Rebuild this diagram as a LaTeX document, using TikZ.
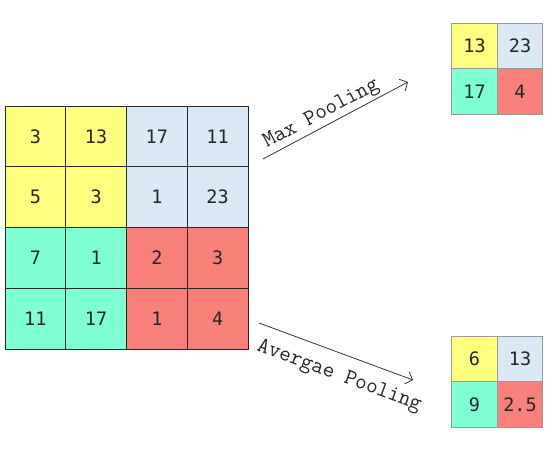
\documentclass[tikz,border=0pt]{standalone}
\usepackage{fontspec}
\newfontfamily\numfont{DejaVu Sans Mono}
\usetikzlibrary{arrows.meta}
\definecolor{cy}{RGB}{255,255,128}
\definecolor{cb}{RGB}{219,232,245}
\definecolor{cg}{RGB}{127,255,212}
\definecolor{cr}{RGB}{248,128,120}
\tikzset{
  bigcell/.style={draw=black!85, line width=0.8pt, minimum size=60.75pt, inner sep=0pt, font=\numfont\fontsize{18.5}{18.5}\selectfont, text=black!85},
  smallcell/.style={draw=black!40, line width=0.8pt, minimum size=45.5pt, inner sep=0pt, font=\numfont\fontsize{18.5}{18.5}\selectfont, text=black!85},
  poolarrow/.style={draw=black!80, line width=0.8pt, -{Straight Barb[length=6pt,width=13pt]}},
  poollabel/.style={font=\ttfamily\fontsize{22.5}{22.5}\selectfont, text=black!85, inner sep=0pt}
}
\begin{document}
\begin{tikzpicture}[x=1pt,y=-1pt]
\useasboundingbox (0,0) rectangle (552,458);
% big grid
\foreach \r/\c/\v/\col [count=\i] in {
 0/0/3/cy, 0/1/13/cy, 0/2/17/cb, 0/3/11/cb,
 1/0/5/cy, 1/1/3/cy, 1/2/1/cb, 1/3/23/cb,
 2/0/7/cg, 2/1/1/cg, 2/2/2/cr, 2/3/3/cr,
 3/0/11/cg, 3/1/17/cg, 3/2/1/cr, 3/3/4/cr}{
  \node[bigcell, fill=\col] (b\r\c) at ({5+30.375+60.75*\c},{106+30.375+60.75*\r}) {\v};
}
% max pooled
\node[smallcell, fill=cy] (m00) at (474.5,46) {13};
\node[smallcell, fill=cb] (m01) at (520,46) {23};
\node[smallcell, fill=cg] (m10) at (474.5,91.5) {17};
\node[smallcell, fill=cr] (m11) at (520,91.5) {4};
% average pooled
\node[smallcell, fill=cy] (a00) at (474.5,359) {6};
\node[smallcell, fill=cb] (a01) at (520,359) {13};
\node[smallcell, fill=cg] (a10) at (474.5,404.5) {9};
\node[smallcell, fill=cr] (a11) at (520,404.5) {2.5};
% arrows
\coordinate (ms) at (263,159);
\coordinate (me) at (408,82);
\coordinate (as) at (259,323);
\coordinate (ae) at (413,380);
\draw[poolarrow] (ms) -- (me);
\draw[poolarrow] (as) -- (ae);
\node[poollabel, rotate=27.9, anchor=base west] (ml) at (267,148) {Max Pooling};
\node[poollabel, rotate=-20.4, anchor=base west] (al) at (256,350) {Avergae Pooling};
\end{tikzpicture}
\end{document}
